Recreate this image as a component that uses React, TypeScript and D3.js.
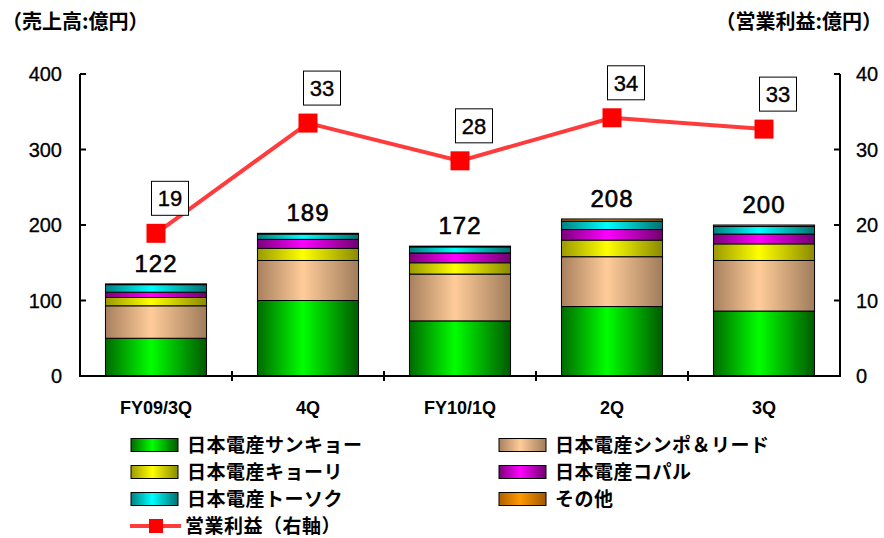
import React from "react";
import * as d3 from "d3";

const categories = ["FY09/3Q", "4Q", "FY10/1Q", "2Q", "3Q"];
const sankyo = [50, 100, 73, 92, 86];
const shimpo = [43, 53, 62, 66, 67];
const kyori = [11, 16, 15, 22, 22];
const copal = [7, 12, 13, 14, 13];
const tosoku = [10, 7, 8, 11, 10];
const other = [1, 1, 1, 3, 2];
const salesTotals = [122, 189, 172, 208, 200];
const opProfit = [18.9, 33.5, 28.5, 34.2, 32.7];
const opProfitLabels = ["19", "33", "28", "34", "33"];
const leftTicks = [0, 100, 200, 300, 400];
const rightTicks = [0, 10, 20, 30, 40];

const seriesNames = [
  "日本電産サンキョー",
  "日本電産シンポ＆リード",
  "日本電産キョーリ",
  "日本電産コパル",
  "日本電産トーソク",
  "その他",
];
const seriesData = [sankyo, shimpo, kyori, copal, tosoku, other];
const lineName = "営業利益（右軸）";

const gradColors = [
  ["#006a00", "#00ff00", "#005a00"],
  ["#a8805f", "#ffcc99", "#a07c5c"],
  ["#9a9a00", "#ffff00", "#8a8a00"],
  ["#7a007a", "#ff00ff", "#700070"],
  ["#008080", "#00ffff", "#007070"],
  ["#b06000", "#ff9900", "#a05800"],
];

const W = 884;
const H = 538;
const X0 = 80;
const X1 = 840;
const Y0 = 376;
const YTOP = 74;

const NUM = "'Liberation Sans', Arial, sans-serif";
const CJK = "'Noto Sans CJK JP', sans-serif";

export default function App() {
  const x = d3.scaleBand<string>().domain(categories).range([X0, X1]).paddingInner(0.335).paddingOuter(0.1675);
  const yL = d3.scaleLinear().domain([0, 400]).range([Y0, YTOP]);
  const yR = d3.scaleLinear().domain([0, 40]).range([Y0, YTOP]);

  const table = categories.map((c, i) => {
    const o: any = { cat: c };
    seriesNames.forEach((s, j) => (o[s] = seriesData[j][i]));
    return o;
  });
  const stack = d3.stack<any>().keys(seriesNames)(table);

  const cx = (i: number) => (x(categories[i]) as number) + x.bandwidth() / 2;
  const line = d3
    .line<number>()
    .x((_, i) => cx(i))
    .y((d) => yR(d));

  const step = x.step();
  const boundaries = categories.slice(1).map((c) => (x(c) as number) - (step - x.bandwidth()) / 2);

  const legendLeft = [0, 2, 4];
  const legendRight = [1, 3, 5];
  const rowY = [445, 472, 499, 526];

  return (
    <svg width={W} height={H} style={{ position: "absolute", left: 0, top: 0, background: "#fff" }}>
      <defs>
        {gradColors.map((g, i) => (
          <linearGradient key={i} id={`g${i}`} x1="0" x2="1" y1="0" y2="0">
            <stop offset="0%" stopColor={g[0]} />
            <stop offset="45%" stopColor={g[1]} />
            <stop offset="100%" stopColor={g[2]} />
          </linearGradient>
        ))}
      </defs>

      {/* titles */}
      <text x={2} y={29} fontFamily={CJK} fontWeight="bold" fontSize={20} fill="#000">
        （売上高:億円）
      </text>
      <text x={882} y={29} textAnchor="end" fontFamily={CJK} fontWeight="bold" fontSize={20} fill="#000">
        （営業利益:億円）
      </text>

      {/* bars */}
      {stack.map((layer, j) =>
        layer.map((d, i) => {
          const h = yL(d[0]) - yL(d[1]);
          return (
            <rect
              key={`${j}-${i}`}
              x={x(categories[i])}
              y={yL(d[1])}
              width={x.bandwidth()}
              height={h}
              fill={`url(#g${j})`}
              stroke="#000"
              strokeWidth={1}
            />
          );
        })
      )}

      {/* total labels */}
      {salesTotals.map((t, i) => (
        <text
          key={i}
          x={cx(i)}
          y={yL(t) - 12}
          textAnchor="middle"
          fontFamily={NUM}
          fontSize={24}
          fill="#000"
          stroke="#000"
          strokeWidth={0.6}
          letterSpacing={1}
        >
          {t}
        </text>
      ))}

      {/* axes */}
      <line x1={X0} x2={X0} y1={YTOP} y2={Y0} stroke="#000" strokeWidth={2} />
      <line x1={X1} x2={X1} y1={YTOP} y2={Y0} stroke="#000" strokeWidth={2} />
      <line x1={X0 - 1} x2={X1 + 1} y1={Y0} y2={Y0} stroke="#000" strokeWidth={2} />
      {leftTicks.map((t) => (
        <g key={t}>
          <line x1={X0} x2={X0 + 6} y1={yL(t)} y2={yL(t)} stroke="#000" strokeWidth={2} />
          <text x={62} y={yL(t)} dy="0.36em" textAnchor="end" fontFamily={NUM} fontSize={20} fill="#000" stroke="#000" strokeWidth={0.3}>
            {t}
          </text>
        </g>
      ))}
      {rightTicks.map((t) => (
        <g key={t}>
          <line x1={X1 - 6} x2={X1} y1={yR(t)} y2={yR(t)} stroke="#000" strokeWidth={2} />
          <text x={856} y={yR(t)} dy="0.36em" textAnchor="start" fontFamily={NUM} fontSize={20} fill="#000" stroke="#000" strokeWidth={0.3}>
            {t}
          </text>
        </g>
      ))}
      {boundaries.map((b, i) => (
        <line key={i} x1={b} x2={b} y1={Y0 - 5} y2={Y0 + 5} stroke="#000" strokeWidth={2} />
      ))}
      {categories.map((c, i) => (
        <text key={c} x={cx(i)} y={414} textAnchor="middle" fontFamily={NUM} fontWeight="bold" fontSize={18} fill="#000">
          {c}
        </text>
      ))}

      {/* line */}
      <path d={line(opProfit) as string} fill="none" stroke="#ff3b3b" strokeWidth={4} />
      {opProfit.map((v, i) => (
        <rect key={i} x={cx(i) - 9.5} y={yR(v) - 9.5} width={19} height={19} fill="#ff0000" />
      ))}
      {opProfit.map((v, i) => (
        <g key={i}>
          <rect x={cx(i) + 14 - 18.5} y={yR(v) - 18 - 34} width={37} height={34} fill="#fff" stroke="#000" strokeWidth={1} />
          <text x={cx(i) + 14} y={yR(v) - 18 - 17} dy="0.36em" textAnchor="middle" fontFamily={NUM} fontSize={22} fill="#000" stroke="#000" strokeWidth={0.4}>
            {opProfitLabels[i]}
          </text>
        </g>
      ))}

      {/* legend */}
      {legendLeft.map((j, r) => (
        <g key={j}>
          <rect x={131} y={rowY[r] - 6.5} width={47} height={13} fill={`url(#g${j})`} stroke="#000" strokeWidth={1} />
          <text x={187} y={rowY[r]} dy="0.36em" fontFamily={CJK} fontWeight="bold" fontSize={19} letterSpacing={0.5} fill="#000">
            {seriesNames[j]}
          </text>
        </g>
      ))}
      {legendRight.map((j, r) => (
        <g key={j}>
          <rect x={499} y={rowY[r] - 6.5} width={47} height={13} fill={`url(#g${j})`} stroke="#000" strokeWidth={1} />
          <text x={555} y={rowY[r]} dy="0.36em" fontFamily={CJK} fontWeight="bold" fontSize={19} letterSpacing={0.5} fill="#000">
            {seriesNames[j]}
          </text>
        </g>
      ))}
      <g>
        <line x1={130} x2={181} y1={rowY[3]} y2={rowY[3]} stroke="#ff3b3b" strokeWidth={4} />
        <rect x={149} y={rowY[3] - 7} width={14} height={14} fill="#ff0000" />
        <text x={185} y={rowY[3]} dy="0.36em" fontFamily={CJK} fontWeight="bold" fontSize={19} letterSpacing={0.5} fill="#000">
          {lineName}
        </text>
      </g>
    </svg>
  );
}
